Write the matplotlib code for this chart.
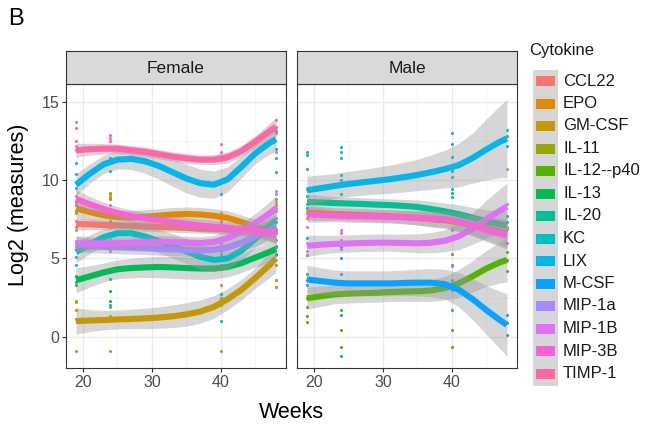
import matplotlib.pyplot as plt
from matplotlib.patches import Rectangle

plt.rcParams['font.family'] = ['Liberation Sans', 'DejaVu Sans']

cytokines = ['CCL22', 'EPO', 'GM-CSF', 'IL-11', 'IL-12--p40', 'IL-13', 'IL-20',
             'KC', 'LIX', 'M-CSF', 'MIP-1a', 'MIP-1B', 'MIP-3B', 'TIMP-1']
colors = ['#F8766D', '#E38900', '#C49A00', '#99A800', '#53B400', '#00BC56', '#00C094',
          '#00BFC4', '#00B6EB', '#06A4FF', '#A58AFF', '#DF70F8', '#FB61D7', '#FF66A8']

fit_weeks = [19, 21, 23, 25, 27, 29, 31, 33, 35, 37, 39, 41, 43, 45, 47, 48]
point_weeks = [19, 24, 40, 48]

# smoothed curves
female_fit = {
    'CCL22': [7.2, 7.17, 7.13, 7.1, 7.07, 7.03, 7.0, 6.97, 6.94, 6.9, 6.87, 6.84, 6.8, 6.76, 6.72, 6.7],
    'EPO': [8.2, 7.95, 7.75, 7.62, 7.6, 7.65, 7.72, 7.8, 7.83, 7.8, 7.72, 7.58, 7.32, 7.0, 6.75, 6.6],
    'GM-CSF': [1.0, 1.03, 1.06, 1.1, 1.13, 1.17, 1.22, 1.3, 1.42, 1.6, 1.9, 2.4, 3.0, 3.75, 4.55, 5.0],
    'IL-13': [3.6, 3.85, 4.1, 4.3, 4.38, 4.42, 4.45, 4.42, 4.38, 4.35, 4.35, 4.45, 4.7, 5.05, 5.4, 5.6],
    'KC': [5.4, 5.9, 6.35, 6.6, 6.6, 6.4, 6.1, 5.8, 5.45, 5.1, 4.9, 5.0, 5.5, 6.25, 7.05, 7.45],
    'LIX': [9.7, 10.4, 11.0, 11.3, 11.35, 11.2, 10.9, 10.5, 10.1, 9.8, 9.7, 10.05, 10.85, 11.7, 12.35, 12.6],
    'MIP-1a': [5.9, 5.8, 5.73, 5.7, 5.67, 5.64, 5.6, 5.57, 5.53, 5.5, 5.55, 5.7, 6.0, 6.4, 6.8, 7.0],
    'MIP-1B': [5.95, 5.95, 5.95, 5.97, 6.0, 6.03, 6.05, 6.05, 6.02, 5.98, 6.05, 6.3, 6.7, 7.25, 7.85, 8.2],
    'MIP-3B': [8.8, 8.45, 8.15, 7.9, 7.7, 7.55, 7.42, 7.3, 7.2, 7.1, 7.03, 6.95, 6.85, 6.75, 6.62, 6.55],
    'TIMP-1': [11.9, 11.97, 12.0, 12.0, 11.9, 11.8, 11.65, 11.5, 11.38, 11.3, 11.3, 11.45, 11.85, 12.45, 13.1, 13.4],
}
female_se = {
    'CCL22': [0.4, 0.33, 0.3, 0.3, 0.3, 0.3, 0.3, 0.3, 0.3, 0.3, 0.3, 0.3, 0.3, 0.33, 0.4, 0.45],
    'EPO': [0.6, 0.5, 0.46, 0.45, 0.45, 0.45, 0.45, 0.45, 0.45, 0.45, 0.45, 0.45, 0.45, 0.48, 0.6, 0.7],
    'GM-CSF': [0.85, 0.7, 0.62, 0.6, 0.62, 0.65, 0.68, 0.72, 0.75, 0.75, 0.72, 0.68, 0.65, 0.65, 0.8, 0.9],
    'IL-13': [0.8, 0.68, 0.6, 0.6, 0.62, 0.65, 0.68, 0.7, 0.7, 0.7, 0.67, 0.63, 0.6, 0.6, 0.7, 0.8],
    'KC': [0.7, 0.6, 0.55, 0.58, 0.64, 0.7, 0.75, 0.78, 0.8, 0.8, 0.75, 0.68, 0.6, 0.6, 0.78, 0.9],
    'LIX': [0.7, 0.62, 0.58, 0.6, 0.68, 0.76, 0.84, 0.9, 0.92, 0.9, 0.87, 0.8, 0.7, 0.65, 0.72, 0.8],
    'MIP-1a': [0.5, 0.44, 0.4, 0.4, 0.4, 0.4, 0.4, 0.4, 0.4, 0.4, 0.42, 0.48, 0.55, 0.62, 0.72, 0.8],
    'MIP-1B': [0.5, 0.44, 0.4, 0.4, 0.4, 0.4, 0.4, 0.4, 0.4, 0.4, 0.42, 0.48, 0.55, 0.62, 0.72, 0.8],
    'MIP-3B': [0.6, 0.5, 0.44, 0.4, 0.4, 0.4, 0.4, 0.4, 0.4, 0.4, 0.4, 0.4, 0.4, 0.43, 0.52, 0.6],
    'TIMP-1': [0.45, 0.38, 0.33, 0.3, 0.3, 0.3, 0.3, 0.3, 0.3, 0.3, 0.32, 0.35, 0.35, 0.38, 0.5, 0.6],
}
female_points = {
    'CCL22': [[7.4, 7.0, 6.8], [7.3, 7.0], [7.1, 6.8], [6.9, 6.6]],
    'EPO': [[8.6, 7.9], [8.0, 7.4], [7.9, 7.4, 3.3], [6.8, 3.6, 3.2]],
    'GM-CSF': [[-0.9, 1.7, 2.2, 8.4], [-0.9, 1.3, 8.8, 9.1], [-0.9, 2.0], [5.2, 4.6, 8.4]],
    'IL-11': [[2.3, 8.0], [9.2, 8.9, 1.9], [2.5], [8.8]],
    'IL-13': [[3.3, 3.9], [3.7, 2.9, 2.3], [2.7, 4.3], [5.8, 5.3]],
    'KC': [[5.1, 4.6, 1.1, 3.5], [5.6, 4.3, 2.0], [4.6, 1.0, 2.5], [7.6, 5.7, 10.5]],
    'LIX': [[10.4, 11.1, 9.5], [11.4, 10.6, 12.0], [10.0, 9.1, 11.3, 2.3], [13.1, 12.0, 11.4]],
    'MIP-1a': [[5.7, 6.0], [5.5, 5.9], [5.3, 5.8], [9.1, 7.3]],
    'MIP-1B': [[6.1, 5.8], [6.2, 5.7], [6.0, 5.5], [9.3, 8.6, 8.0]],
    'MIP-3B': [[9.0, 8.4, 12.2], [8.4, 7.8, 12.7], [7.3, 6.8, 11.8], [6.6, 6.2, 8.2]],
    'TIMP-1': [[13.7, 13.3, 12.5, 11.9], [12.9, 12.5, 12.1], [12.3, 11.5], [13.8, 13.4, 13.0, 11.8]],
}

male_fit = {
    'EPO': [7.9, 7.87, 7.83, 7.8, 7.77, 7.73, 7.7, 7.65, 7.58, 7.5, 7.43, 7.3, 7.1, 6.9, 6.7, 6.6],
    'IL-12--p40': [2.45, 2.58, 2.7, 2.75, 2.78, 2.8, 2.85, 2.88, 2.9, 2.95, 3.1, 3.4, 3.85, 4.35, 4.75, 4.9],
    'IL-20': [8.6, 8.57, 8.53, 8.5, 8.47, 8.43, 8.4, 8.35, 8.28, 8.15, 8.0, 7.82, 7.6, 7.35, 7.18, 7.1],
    'LIX': [9.35, 9.48, 9.62, 9.75, 9.85, 9.95, 10.05, 10.18, 10.32, 10.5, 10.7, 10.95, 11.4, 11.95, 12.45, 12.65],
    'M-CSF': [3.65, 3.55, 3.45, 3.4, 3.4, 3.4, 3.4, 3.43, 3.45, 3.45, 3.35, 3.0, 2.4, 1.7, 1.05, 0.75],
    'MIP-1B': [5.8, 5.87, 5.92, 5.95, 5.98, 6.0, 6.0, 5.98, 5.96, 6.0, 6.12, 6.4, 6.9, 7.5, 8.05, 8.3],
    'MIP-3B': [7.8, 7.77, 7.73, 7.7, 7.69, 7.67, 7.65, 7.62, 7.58, 7.55, 7.5, 7.35, 7.1, 6.82, 6.6, 6.5],
}
male_se = {
    'EPO': [0.5, 0.45, 0.4, 0.4, 0.4, 0.4, 0.4, 0.42, 0.45, 0.5, 0.53, 0.6, 0.65, 0.75, 0.85, 0.9],
    'IL-12--p40': [0.7, 0.65, 0.6, 0.6, 0.6, 0.6, 0.6, 0.62, 0.65, 0.7, 0.75, 0.88, 1.0, 1.15, 1.32, 1.4],
    'IL-20': [0.5, 0.45, 0.4, 0.4, 0.4, 0.4, 0.4, 0.42, 0.45, 0.5, 0.53, 0.6, 0.65, 0.75, 0.85, 0.9],
    'LIX': [0.9, 0.85, 0.8, 0.8, 0.82, 0.85, 0.9, 0.95, 1.0, 1.1, 1.2, 1.4, 1.6, 1.95, 2.3, 2.5],
    'M-CSF': [0.9, 0.85, 0.8, 0.8, 0.8, 0.8, 0.8, 0.82, 0.85, 0.9, 0.95, 1.1, 1.3, 1.55, 1.85, 2.0],
    'MIP-1B': [0.7, 0.6, 0.55, 0.55, 0.55, 0.55, 0.55, 0.57, 0.6, 0.65, 0.7, 0.85, 1.0, 1.2, 1.4, 1.5],
    'MIP-3B': [0.5, 0.45, 0.4, 0.4, 0.4, 0.4, 0.4, 0.42, 0.45, 0.5, 0.53, 0.6, 0.65, 0.75, 0.85, 0.9],
}
male_points = {
    'EPO': [[8.0], [7.9], [7.6], [6.9]],
    'IL-12--p40': [[2.5, 1.9, 1.3, 0.95], [2.7, 1.7, -0.65, 0.4], [5.3, 4.6, 0.4, -0.65], [5.4, 4.9, 4.2]],
    'IL-20': [[9.0, 8.5, 8.2, 4.0], [9.1, 8.6], [9.4, 8.9, 9.2], [7.7, 7.3]],
    'LIX': [[11.8, 11.6, 10.7, 9.4], [12.1, 11.8, 11.4, 10.3, 10.0], [13.0, 12.3, 11.5, 10.6, 10.2], [13.2, 12.8, 12.2]],
    'M-CSF': [[6.3, 5.2, 3.6, 3.3], [5.7, 5.0, 4.0, 2.8, 1.4, -1.23], [3.6, 3.0, 1.7], [1.4, 0.9, 0.1]],
    'MIP-1B': [[6.0, 5.5, 5.2], [6.2, 5.6], [4.5, 6.3], [10.7, 8.5]],
    'MIP-3B': [[7.9, 7.6, 7.0], [6.8, 6.6, 7.8], [7.45, 6.8], [7.0, 5.95]],
}

W, H = 652, 428
fig = plt.figure(figsize=(W / 100, H / 100), dpi=100)


def px_axes(l, t, r, b):
    return fig.add_axes([l / W, 1 - b / H, (r - l) / W, (b - t) / H])


def draw_panel(ax, fit, se, points, title, strip):
    # points first, then ribbon + line per group like geom_smooth
    for name, col in zip(cytokines, colors):
        if name in points:
            for wk, vals in zip(point_weeks, points[name]):
                ax.scatter([wk] * len(vals), vals, s=5, color=col, lw=0, zorder=1)
    z = 2
    for name, col in zip(cytokines, colors):
        if name not in fit:
            continue
        lo = [c - s for c, s in zip(fit[name], se[name])]
        hi = [c + s for c, s in zip(fit[name], se[name])]
        ax.fill_between(fit_weeks, lo, hi, color='#999999', alpha=0.4, lw=0, zorder=z)
        ax.plot(fit_weeks, fit[name], color=col, lw=4.4, solid_joinstyle='round',
                solid_capstyle='butt', zorder=z + 0.5)
        z += 1
    ax.set_xlim(17.55, 49.45)
    ax.set_ylim(-2.0, 16.13)
    ax.set_xticks([20, 30, 40])
    ax.set_xticks([25, 35, 45], minor=True)
    ax.set_yticks([0, 5, 10, 15])
    ax.set_yticks([2.5, 7.5, 12.5], minor=True)
    ax.grid(True, which='major', color='#EBEBEB', lw=1.0, zorder=0)
    ax.grid(True, which='minor', color='#F2F2F2', lw=0.6, zorder=0)
    ax.set_axisbelow(True)
    ax.tick_params(which='major', length=3, width=0.8, color='#333333',
                   labelsize=11.5, labelcolor='#4D4D4D', pad=2)
    ax.tick_params(which='minor', length=0)
    for sp in ax.spines.values():
        sp.set_color('#333333')
        sp.set_linewidth(0.8)
    strip.set_facecolor('#D9D9D9')
    strip.set_xticks([])
    strip.set_yticks([])
    for sp in strip.spines.values():
        sp.set_color('#333333')
        sp.set_linewidth(0.8)
    strip.text(0.5, 0.47, title, ha='center', va='center', fontsize=12.5,
               color='#1A1A1A', transform=strip.transAxes)


ax_f = px_axes(66, 84, 286, 368)
ax_m = px_axes(297, 84, 517, 368)
st_f = px_axes(66, 51, 286, 84)
st_m = px_axes(297, 51, 517, 84)
draw_panel(ax_f, female_fit, female_se, female_points, 'Female', st_f)
draw_panel(ax_m, male_fit, male_se, male_points, 'Male', st_m)
ax_m.tick_params(axis='y', labelleft=False, length=0)

fig.text(291 / W, 1 - 412 / H, 'Weeks', ha='center', va='center', fontsize=15.5)
fig.text(19 / W, 1 - 205 / H, 'Log2 (measures)', ha='center', va='center',
         rotation=90, fontsize=15.5)
fig.text(8 / W, 1 - 19 / H, 'B', ha='left', va='center', fontsize=17)

# legend
lg = px_axes(526, 36, 652, 392)
lg.set_xlim(526, 652)
lg.set_ylim(392, 36)
lg.axis('off')
lg.text(529, 50, 'Cytokine', ha='left', va='center', fontsize=12, color='#1A1A1A')
lg.add_patch(Rectangle((533, 70), 25, 316, color='#D6D6D6', lw=0))
for i, (name, col) in enumerate(zip(cytokines, colors)):
    yc = 81 + i * 22.5
    lg.add_patch(Rectangle((536, yc - 5), 19, 10, color=col, lw=0))
    lg.text(563, yc, name, ha='left', va='center', fontsize=12, color='#1A1A1A')

fig.savefig('out.png', dpi=100)
